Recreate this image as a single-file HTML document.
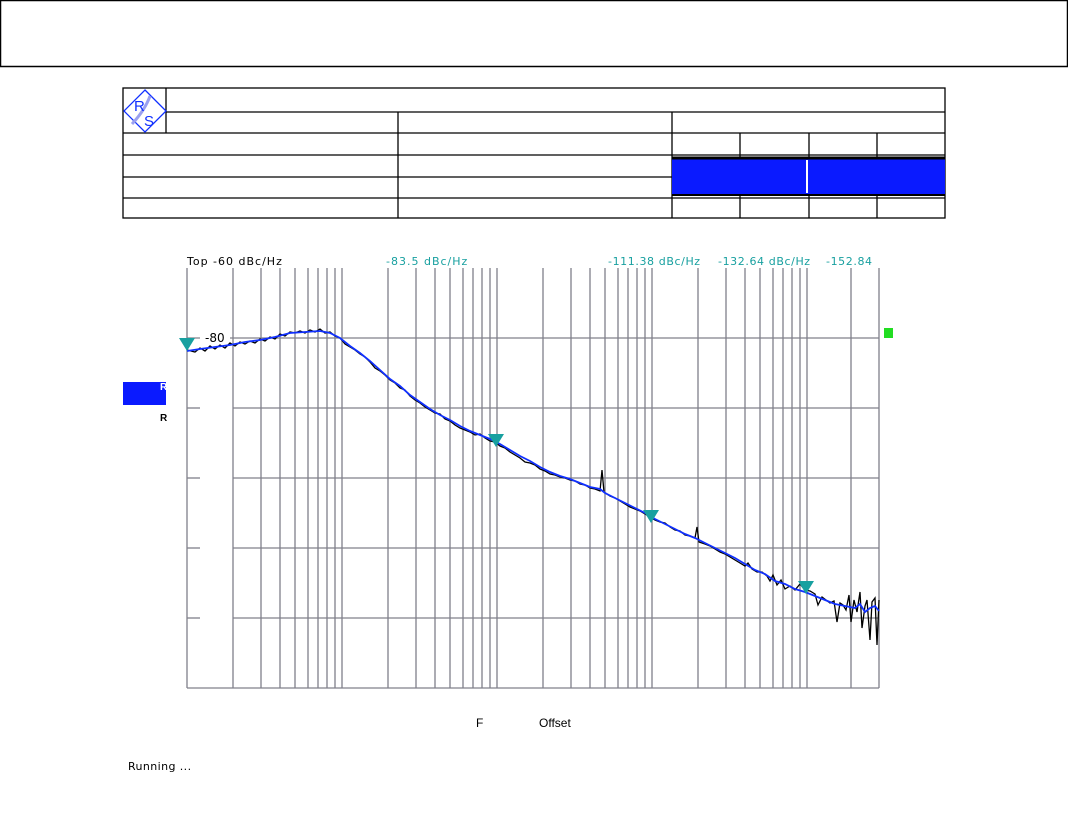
<!DOCTYPE html>
<html><head><style>
body{margin:0;width:1068px;height:829px;background:#fff;position:relative;overflow:hidden;font-family:"DejaVu Sans","Liberation Sans",sans-serif}
</style></head><body>
<svg width="1068" height="829" viewBox="0 0 1068 829" style="position:absolute;left:0;top:0">
<rect x="0.5" y="0.5" width="1067" height="66" fill="none" stroke="#000" stroke-width="1.5"/>
<g stroke="#000" stroke-width="1.3" fill="none">
<rect x="123" y="88" width="822" height="130"/>
<line x1="166" y1="88" x2="166" y2="133"/>
<line x1="166" y1="112" x2="945" y2="112"/>
<line x1="123" y1="133" x2="945" y2="133"/>
<line x1="123" y1="155" x2="945" y2="155"/>
<line x1="123" y1="177" x2="945" y2="177"/>
<line x1="123" y1="198" x2="945" y2="198"/>
<line x1="398" y1="112" x2="398" y2="218"/>
<line x1="672" y1="112" x2="672" y2="218"/>
<line x1="740" y1="133" x2="740" y2="218"/>
<line x1="809" y1="133" x2="809" y2="218"/>
<line x1="877" y1="133" x2="877" y2="218"/>
</g>
<rect x="672" y="157" width="273" height="37" fill="#0a1aff"/>
<line x1="672" y1="158" x2="945" y2="158" stroke="#000" stroke-width="3"/>
<line x1="672" y1="195" x2="945" y2="195" stroke="#000" stroke-width="2"/>
<line x1="807" y1="160" x2="807" y2="193" stroke="#fff" stroke-width="2"/>
<g>
<polygon points="145,90 166,111 145,132 124,111" fill="#fff" stroke="#1030ff" stroke-width="1.3"/>
<path d="M132,124 Q145,110 150,96" stroke="#9aa0f0" stroke-width="3" fill="none"/>
<text x="134" y="111" font-family="Liberation Sans" font-size="15" fill="#1030ff">R</text>
<text x="144" y="126" font-family="Liberation Sans" font-size="15" fill="#1030ff">S</text>
</g>
<g stroke="#80808a" stroke-width="1.3">
<line x1="187" y1="268" x2="187" y2="688"/>
<line x1="233" y1="268" x2="233" y2="688"/><line x1="261" y1="268" x2="261" y2="688"/><line x1="280" y1="268" x2="280" y2="688"/><line x1="295" y1="268" x2="295" y2="688"/><line x1="308" y1="268" x2="308" y2="688"/><line x1="318" y1="268" x2="318" y2="688"/><line x1="327" y1="268" x2="327" y2="688"/><line x1="335" y1="268" x2="335" y2="688"/><line x1="342" y1="268" x2="342" y2="688"/>
<line x1="388" y1="268" x2="388" y2="688"/><line x1="416" y1="268" x2="416" y2="688"/><line x1="435" y1="268" x2="435" y2="688"/><line x1="450" y1="268" x2="450" y2="688"/><line x1="463" y1="268" x2="463" y2="688"/><line x1="473" y1="268" x2="473" y2="688"/><line x1="482" y1="268" x2="482" y2="688"/><line x1="490" y1="268" x2="490" y2="688"/><line x1="497" y1="268" x2="497" y2="688"/>
<line x1="543" y1="268" x2="543" y2="688"/><line x1="571" y1="268" x2="571" y2="688"/><line x1="590" y1="268" x2="590" y2="688"/><line x1="605" y1="268" x2="605" y2="688"/><line x1="618" y1="268" x2="618" y2="688"/><line x1="628" y1="268" x2="628" y2="688"/><line x1="637" y1="268" x2="637" y2="688"/><line x1="645" y1="268" x2="645" y2="688"/><line x1="652" y1="268" x2="652" y2="688"/>
<line x1="698" y1="268" x2="698" y2="688"/><line x1="726" y1="268" x2="726" y2="688"/><line x1="745" y1="268" x2="745" y2="688"/><line x1="760" y1="268" x2="760" y2="688"/><line x1="773" y1="268" x2="773" y2="688"/><line x1="783" y1="268" x2="783" y2="688"/><line x1="792" y1="268" x2="792" y2="688"/><line x1="800" y1="268" x2="800" y2="688"/><line x1="807" y1="268" x2="807" y2="688"/>
<line x1="851" y1="268" x2="851" y2="688"/><line x1="879" y1="268" x2="879" y2="688"/>
<line x1="187" y1="338" x2="879" y2="338"/>
<line x1="187" y1="408" x2="200" y2="408"/><line x1="233" y1="408" x2="879" y2="408"/>
<line x1="187" y1="478" x2="200" y2="478"/><line x1="233" y1="478" x2="879" y2="478"/>
<line x1="187" y1="548" x2="200" y2="548"/><line x1="233" y1="548" x2="879" y2="548"/>
<line x1="187" y1="618" x2="200" y2="618"/><line x1="233" y1="618" x2="879" y2="618"/>
<line x1="187" y1="688" x2="879" y2="688"/>
</g>
<rect x="200" y="329" width="30" height="16" fill="#fff"/>
<text x="205" y="342" font-size="12" fill="#000">-80</text>
<g font-size="11" letter-spacing="1">
<text x="187" y="265" fill="#000">Top -60 dBc/Hz</text>
<text x="386" y="265" fill="#18a0a0">-83.5 dBc/Hz</text>
<text x="608" y="265" fill="#18a0a0" letter-spacing="0.6">-111.38 dBc/Hz</text>
<text x="718" y="265" fill="#18a0a0" letter-spacing="0.6">-132.64 dBc/Hz</text>
<text x="826" y="265" fill="#18a0a0" letter-spacing="0.6">-152.84</text>
</g>
<polyline fill="none" stroke="#000" stroke-width="1.3" points="187,350 195,352 200,348 205,351 210,346 215,349 220,345 225,348 230,343 235,346 240,342 245,344 250,341 255,343 260,339 265,341 270,337 275,339 280,334 285,336 290,332 295,333 300,331 305,333 310,330 315,332 320,329 325,333 330,332 335,336 340,338 345,344 350,347 355,350 360,354 365,357 370,362 375,368 380,371 385,375 390,380 395,383 400,388 405,390 410,396 415,400 420,403 425,407 430,410 435,413 440,414 445,419 450,421 455,425 460,428 465,430 470,432 475,435 480,434 485,438 490,441 495,442 500,446 505,448 510,452 515,455 520,458 525,462 530,463 535,465 540,469 545,471 550,474 555,475 560,477 565,478 570,480 575,481 580,484 585,485 590,488 595,489 600,491 602,470 604,492 610,496 615,498 620,501 625,504 630,507 635,509 640,511 645,514 650,517 655,520 660,522 665,523 670,527 675,530 680,531 685,535 690,536 695,538 697,527 699,542 705,544 710,546 715,549 720,552 725,554 730,557 735,560 740,563 745,566 748,563 752,569 757,572 762,572 767,576 770,581 773,575 777,585 781,580 785,589 790,586 795,590 800,584 805,590 810,591 815,594 818,605 822,597 826,600 830,603 834,601 837,622 840,603 843,605 846,610 849,595 851,622 854,600 857,612 860,592 862,628 865,606 867,600 870,640 872,602 875,598 877,645 879,600"/>
<polyline fill="none" stroke="#1030ff" stroke-width="1.8" points="187,351 200,349 215,347 230,345 245,342 260,340 275,337 290,333 305,332 320,331 330,333 340,338 350,346 360,353 370,361 380,370 390,379 400,386 410,395 420,402 430,409 440,415 450,420 460,426 470,431 480,435 490,439 500,444 510,450 520,456 530,461 540,467 550,472 560,476 570,479 580,483 590,487 600,489 605,493 615,498 625,503 635,508 645,513 655,519 665,524 675,529 685,534 695,538 705,543 715,548 725,553 735,558 745,564 755,570 765,574 775,581 785,584 795,589 805,592 815,596 825,600 835,604 845,606 855,608 860,604 865,612 870,608 875,606 879,611"/>
<g fill="#18a0a0">
<polygon points="179,338 195,338 187,351"/>
<polygon points="488,434 504,434 496,447"/>
<polygon points="643,510 659,510 651,523"/>
<polygon points="798,581 814,581 806,594"/>
</g>
<rect x="884" y="328" width="9" height="10" fill="#22dd22"/>
<rect x="123" y="382" width="43" height="23" fill="#0a1aff"/>
<text x="160" y="390" font-size="10" font-weight="bold" fill="#fff" font-family="Liberation Sans">R</text>
<text x="160" y="421" font-size="10" font-weight="bold" fill="#000" font-family="Liberation Sans">R</text>
<text x="476" y="727" font-size="12" fill="#000" font-family="Liberation Sans">F</text>
<text x="539" y="727" font-size="12" fill="#000" font-family="Liberation Sans">Offset</text>
<text x="128" y="770" font-size="11" fill="#000" letter-spacing="0.4">Running ...</text>
</svg>
</body></html>
